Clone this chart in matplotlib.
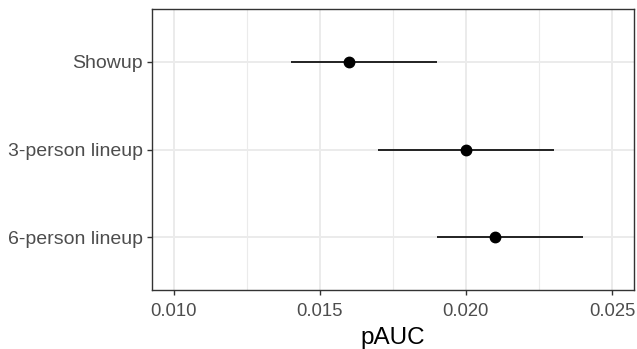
import numpy as np
import matplotlib.pyplot as plt
from matplotlib.ticker import MultipleLocator

plt.rcParams['font.family'] = ['Liberation Sans', 'DejaVu Sans']

# data
conditions = ["6-person lineup", "3-person lineup", "Showup"]
pauc = [0.021, 0.020, 0.016]
ci_low = [0.019, 0.017, 0.014]
ci_high = [0.024, 0.023, 0.019]

fig = plt.figure(figsize=(6.37, 3.49), dpi=100)
ax = fig.add_axes([0.2386, 0.169, 0.7567, 0.805])

y = np.arange(1, len(conditions) + 1)

ax.hlines(y, ci_low, ci_high, color='black', lw=1.2, zorder=3)
ax.plot(pauc, y, 'o', color='black', ms=7.5, zorder=4)

ax.set_xlim(0.009257, 0.025753)
ax.set_ylim(0.4, 3.6)
ax.xaxis.set_minor_locator(MultipleLocator(0.0025))
ax.set_xticks([0.010, 0.015, 0.020, 0.025])
ax.set_xticklabels(["0.010", "0.015", "0.020", "0.025"])
ax.set_yticks(y)
ax.set_yticklabels(conditions)

ax.grid(which='major', color='#EBEBEB', lw=1.4, zorder=0)
ax.grid(which='minor', axis='x', color='#EBEBEB', lw=0.8, zorder=0)
ax.set_axisbelow(True)

ax.tick_params(which='major', length=3.5, width=1.0, color='#333333',
               labelcolor='#4D4D4D', pad=3)
ax.tick_params(axis='x', which='major', labelsize=13.3, pad=6)
ax.tick_params(axis='y', which='major', labelsize=14)
ax.tick_params(which='minor', length=0)
for s in ax.spines.values():
    s.set_color('#333333')
    s.set_linewidth(1.0)

ax.set_xlabel("pAUC", fontsize=17.5, color='black', labelpad=5)

fig.savefig("out.png", dpi=100)
